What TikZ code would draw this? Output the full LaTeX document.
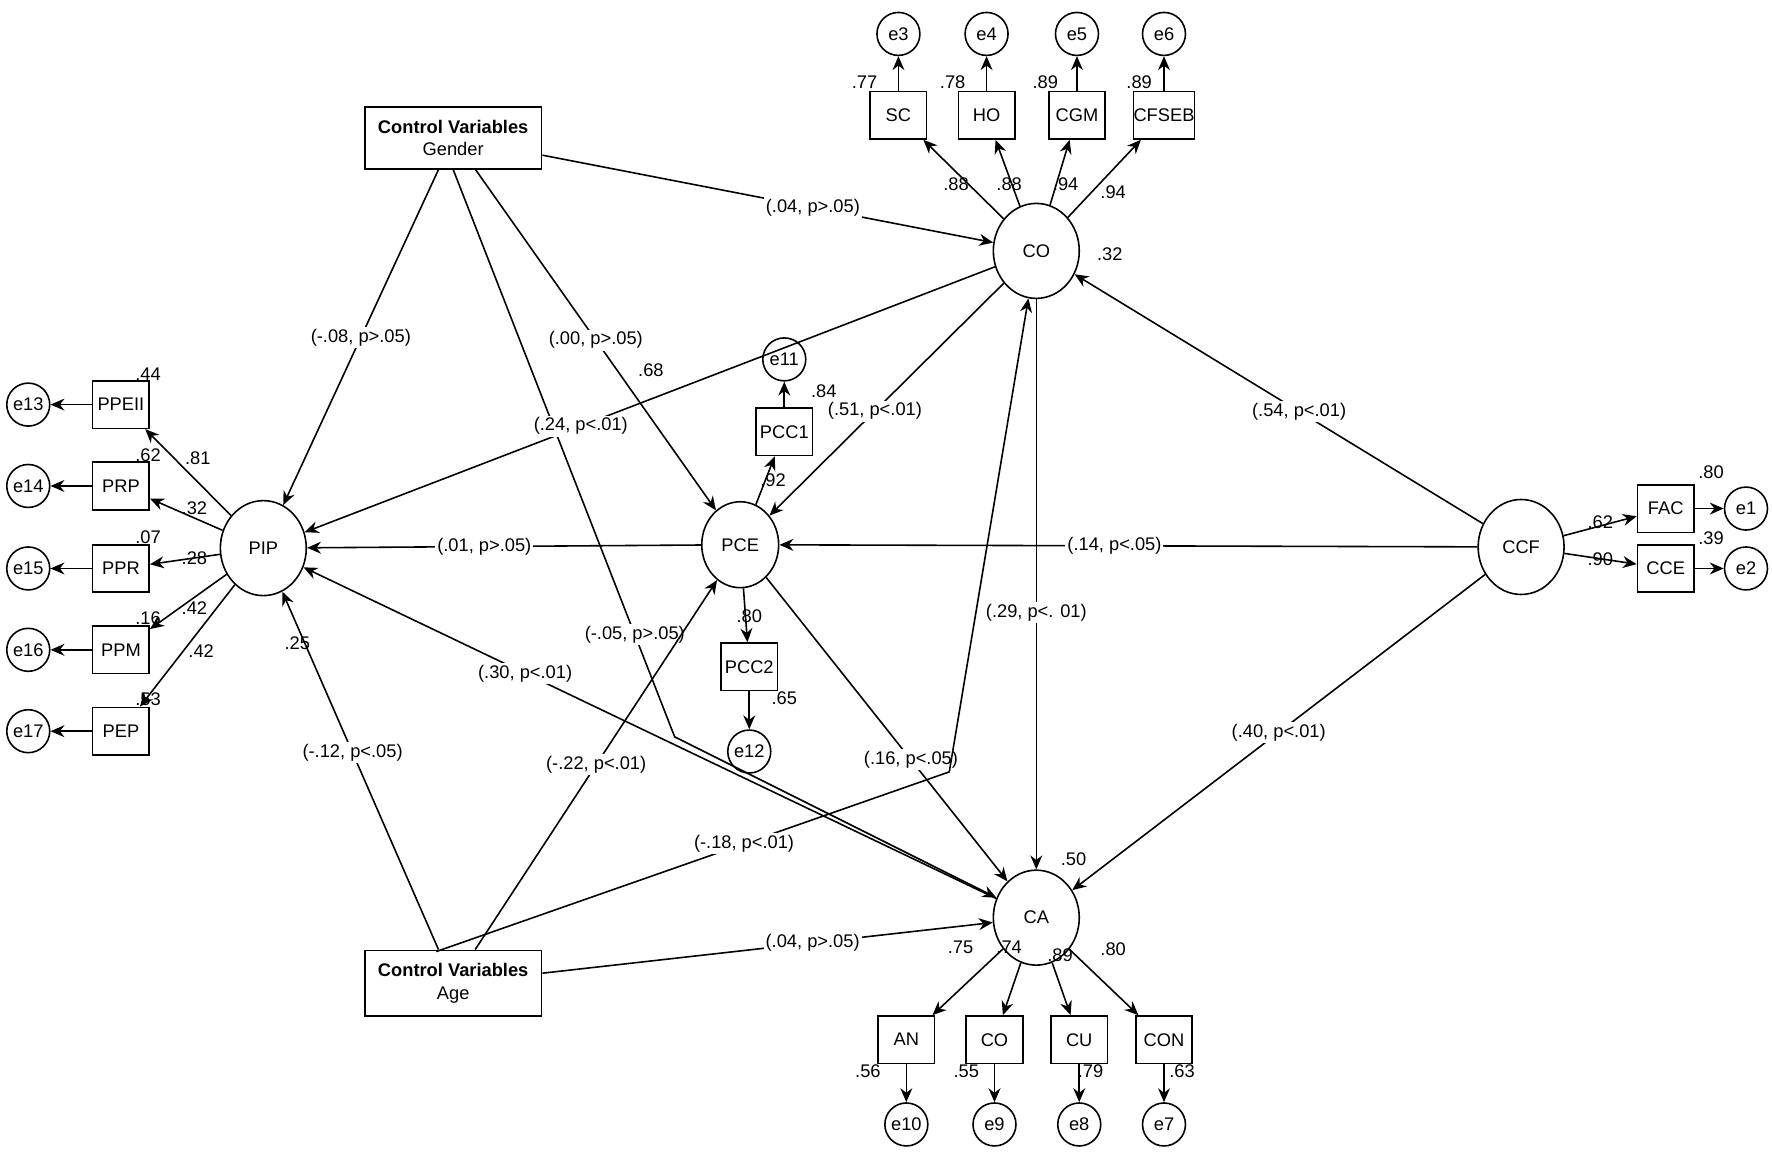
\documentclass[tikz,border=0pt]{standalone}
\usepackage{fontspec}
\setmainfont{Liberation Sans}
\usetikzlibrary{arrows.meta,shapes.geometric}
\begin{document}
\begin{tikzpicture}[x=0.01cm,y=-0.01cm,
  every node/.style={font=\fontsize{4.6}{5.6}\selectfont},
  lat/.style={draw,ellipse,minimum width=0.76cm,minimum height=0.84cm,inner sep=0},
  ind/.style={draw,rectangle,minimum width=0.5cm,minimum height=0.42cm,inner sep=0},
  err/.style={draw,circle,minimum size=0.38cm,inner sep=0},
  ctl/.style={draw,rectangle,minimum width=1.4cm,minimum height=0.55cm,align=center},
  ar/.style={-{Stealth[length=3.5pt,width=3pt]},line width=0.4pt},
  lb/.style={fill=white,inner sep=0.5pt},
  tx/.style={inner sep=0}]
\useasboundingbox (0,0) rectangle (1568,1020);
% latent
\node[lat] (CO) at (917,222) {CO};
\node[lat] (CA) at (917,812) {CA};
\node[lat,minimum width=0.68cm,minimum height=0.76cm] (PCE) at (655,482) {PCE};
\node[lat] (PIP) at (233,485) {PIP};
\node[lat] (CCF) at (1346,484) {CCF};
\node[ctl] (G) at (401,122) {\textbf{Control Variables}\\Gender};
\node[ctl] (A) at (401,870) {\textbf{Control Variables}\\Age};
% CO indicators
\foreach \n/\t/\e/\x in {SC/SC/e3/795,HO/HO/e4/873,CGM/CGM/e5/953,CFSEB/CFSEB/e6/1030}{
  \node[ind] (\n) at (\x,102) {\t};
  \node[err] (\e) at (\x,30) {\e};
  \draw[ar] (\n) -- (\e);
  \draw[ar] (CO) -- (\n);}
% PIP indicators
\foreach \n/\e/\y in {PPEII/e13/358,PRP/e14/430,PPR/e15/503,PPM/e16/575,PEP/e17/647}{
  \node[ind] (\n) at (107,\y) {\n};
  \node[err] (\e) at (25,\y) {\e};
  \draw[ar] (\n) -- (\e);
  \draw[ar] (PIP) -- (\n);}
% PCE indicators
\node[ind] (PCC1) at (694,382) {PCC1};
\node[err] (e11) at (694,318) {e11};
\node[ind] (PCC2) at (663,590) {PCC2};
\node[err] (e12) at (663,665) {e12};
\draw[ar] (PCE) -- (PCC1); \draw[ar] (PCC1) -- (e11);
\draw[ar] (PCE) -- (PCC2); \draw[ar] (PCC2) -- (e12);
% CCF indicators
\node[ind] (FAC) at (1474,450) {FAC};
\node[ind] (CCE) at (1474,503) {CCE};
\node[err] (e1) at (1545,450) {e1};
\node[err] (e2) at (1545,503) {e2};
\draw[ar] (CCF) -- (FAC); \draw[ar] (FAC) -- (e1);
\draw[ar] (CCF) -- (CCE); \draw[ar] (CCE) -- (e2);
% CA indicators
\foreach \n/\t/\e/\x in {AN/AN/e10/802,COb/CO/e9/880,CU/CU/e8/955,CON/CON/e7/1030}{
  \node[ind] (\n) at (\x,920) {\t};
  \node[err] (\e) at (\x,995) {\e};
  \draw[ar] (\n) -- (\e);
  \draw[ar] (CA) -- (\n);}
% structural paths
\coordinate (gb) at (597,652);
\coordinate (ab) at (840,683);
\coordinate (gs) at (401,150);
\coordinate (an) at (386,842);
\draw[ar] (G) -- node[lb,pos=0.6] {(.04, p>.05)} (CO);
\draw[ar] (G) -- node[lb,pos=0.5] {(-.08, p>.05)} (PIP);
\draw[ar] (G) -- node[lb,pos=0.5] {(.00, p>.05)} (PCE);
\draw[ar] (gs) -- node[lb,pos=0.82] {(-.05, p>.05)} (gb) -- (CA);
\draw[ar] (CO) -- node[lb,pos=0.6] {(.24, p<.01)} (PIP);
\draw[ar] (CO) -- node[lb,pos=0.55] {(.51, p<.01)} (PCE);
\draw[ar] (CO) -- node[lb,pos=0.55] {(.29, p<. 01)} (CA);
\draw[ar] (CCF) -- node[lb,pos=0.45] {(.54, p<.01)} (CO);
\draw[ar] (CCF) -- node[lb,pos=0.52] {(.14, p<.05)} (PCE);
\draw[ar] (CCF) -- node[lb,pos=0.5] {(.40, p<.01)} (CA);
\draw[ar] (PCE) -- node[lb,pos=0.55] {(.01, p>.05)} (PIP);
\draw[ar] (PCE) -- node[lb,pos=0.6] {(.16, p<.05)} (CA);
\draw[ar] (CA) -- node[lb,pos=0.68] {(.30, p<.01)} (PIP);
\draw[ar] (A) -- node[lb,pos=0.55] {(-.12, p<.05)} (PIP);
\draw[ar] (A) -- node[lb,pos=0.5] {(-.22, p<.01)} (PCE);
\draw[ar] (an) -- node[lb,pos=0.6] {(-.18, p<.01)} (ab) -- (CO);
\draw[ar] (A) -- node[lb,pos=0.6] {(.04, p>.05)} (CA);
% loadings / R2
\foreach \x/\y/\t in {846/163/.88,893/163/.88,943/163/.94,985/170/.94,
  765/73/.77,843/73/.78,925/73/.89,1008/73/.89,982/225/.32,
  175/405/.81,172/450/.32,172/494/.28,172/538/.42,178/576/.42,
  131/331/.44,131/403/.62,131/475/.07,131/547/.16,131/619/.53,263/569/.25,
  576/328/.68,684/425/.92,729/346/.84,663/545/.80,694/618/.65,
  1416/462/.62,1416/495/.90,1514/418/.80,1514/476/.39,
  950/760/.50,850/838/.75,893/838/.74,938/845/.89,985/840/.80,
  768/948/.56,855/948/.55,965/948/.79,1046/948/.63}
  {\node[tx] at (\x,\y) {\t};}
\end{tikzpicture}
\end{document}
